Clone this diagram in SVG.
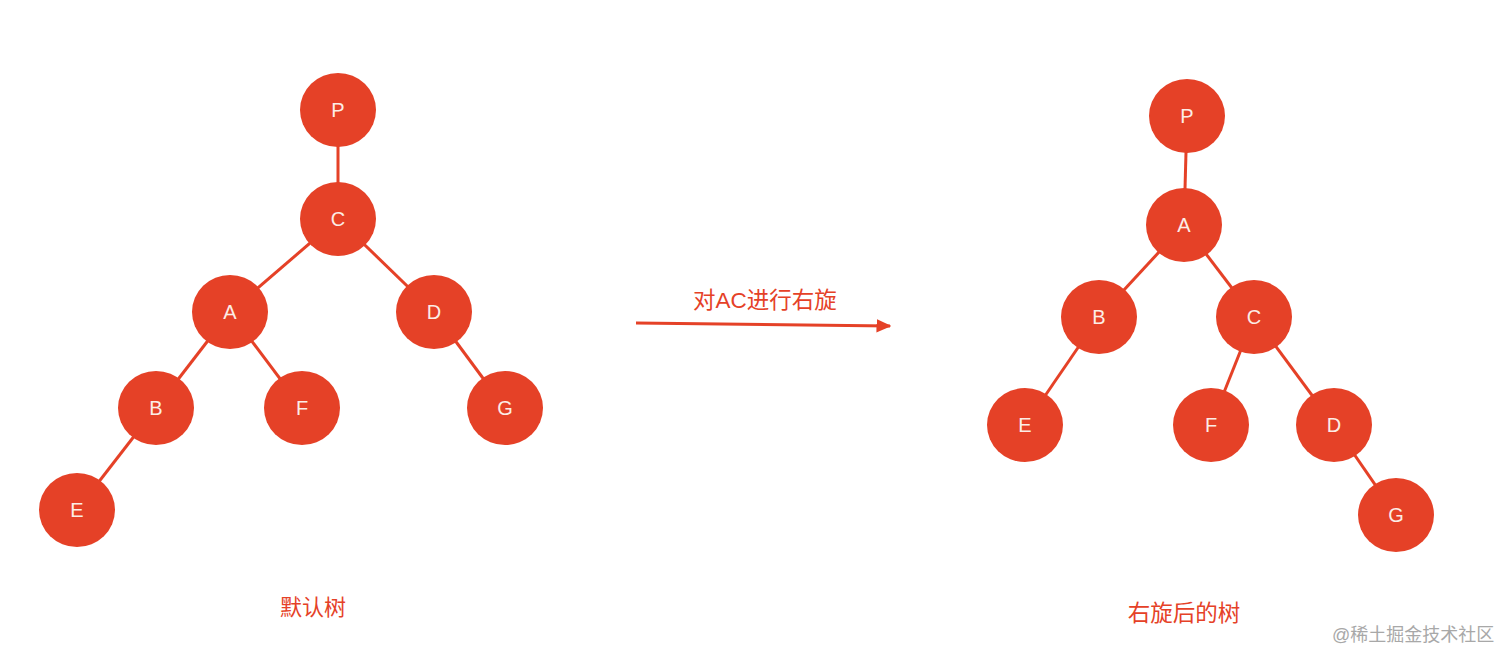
<svg xmlns="http://www.w3.org/2000/svg" width="1512" height="664" viewBox="0 0 1512 664">
<defs>
<style>
.n{fill:#E54127;}
.t{font-family:"Liberation Sans",Arial,sans-serif;font-size:20px;fill:#FCEDE6;text-anchor:middle;dominant-baseline:central;}
.e{stroke:#E54127;stroke-width:3;fill:none;}
.lbl{font-family:"Liberation Sans","Noto Sans CJK SC",sans-serif;font-size:22px;fill:#E54127;text-anchor:middle;}
.wm{font-family:"Liberation Sans","Noto Sans CJK SC",sans-serif;font-size:18px;fill:#A8A8A8;}
</style>
<marker id="ah" viewBox="0 0 10 10" refX="9" refY="5" markerWidth="5" markerHeight="4.5" orient="auto" markerUnits="strokeWidth" preserveAspectRatio="none">
<path d="M0,0 L10,5 L0,10 Z" fill="#E54127"/>
</marker>
</defs>
<rect width="1512" height="664" fill="#FFFFFF"/>
<g id="connectors">
<line class="e" x1="338" y1="110" x2="338" y2="219"/>
<line class="e" x1="338" y1="219" x2="230" y2="312"/>
<line class="e" x1="338" y1="219" x2="434" y2="312"/>
<line class="e" x1="230" y1="312" x2="156" y2="408"/>
<line class="e" x1="230" y1="312" x2="302" y2="408"/>
<line class="e" x1="434" y1="312" x2="505" y2="408"/>
<line class="e" x1="156" y1="408" x2="77" y2="510"/>
<line class="e" x1="1187" y1="116" x2="1184" y2="225"/>
<line class="e" x1="1184" y1="225" x2="1099" y2="317"/>
<line class="e" x1="1184" y1="225" x2="1254" y2="317"/>
<line class="e" x1="1099" y1="317" x2="1025" y2="425"/>
<line class="e" x1="1254" y1="317" x2="1211" y2="425"/>
<line class="e" x1="1254" y1="317" x2="1334" y2="425"/>
<line class="e" x1="1334" y1="425" x2="1396" y2="515"/>
<line class="e" x1="636" y1="323" x2="890" y2="326" marker-end="url(#ah)"/>
</g>
<g id="L-P"><ellipse class="n" cx="338" cy="110" rx="38" ry="37"/><text class="t" x="338" y="110">P</text></g>
<g id="L-C"><ellipse class="n" cx="338" cy="219" rx="38" ry="37"/><text class="t" x="338" y="219">C</text></g>
<g id="L-A"><ellipse class="n" cx="230" cy="312" rx="38" ry="37"/><text class="t" x="230" y="312">A</text></g>
<g id="L-D"><ellipse class="n" cx="434" cy="312" rx="38" ry="37"/><text class="t" x="434" y="312">D</text></g>
<g id="L-B"><ellipse class="n" cx="156" cy="408" rx="38" ry="37"/><text class="t" x="156" y="408">B</text></g>
<g id="L-F"><ellipse class="n" cx="302" cy="408" rx="38" ry="37"/><text class="t" x="302" y="408">F</text></g>
<g id="L-G"><ellipse class="n" cx="505" cy="408" rx="38" ry="37"/><text class="t" x="505" y="408">G</text></g>
<g id="L-E"><ellipse class="n" cx="77" cy="510" rx="38" ry="37"/><text class="t" x="77" y="510">E</text></g>
<g id="R-P"><ellipse class="n" cx="1187" cy="116" rx="38" ry="37"/><text class="t" x="1187" y="116">P</text></g>
<g id="R-A"><ellipse class="n" cx="1184" cy="225" rx="38" ry="37"/><text class="t" x="1184" y="225">A</text></g>
<g id="R-B"><ellipse class="n" cx="1099" cy="317" rx="38" ry="37"/><text class="t" x="1099" y="317">B</text></g>
<g id="R-C"><ellipse class="n" cx="1254" cy="317" rx="38" ry="37"/><text class="t" x="1254" y="317">C</text></g>
<g id="R-E"><ellipse class="n" cx="1025" cy="425" rx="38" ry="37"/><text class="t" x="1025" y="425">E</text></g>
<g id="R-F"><ellipse class="n" cx="1211" cy="425" rx="38" ry="37"/><text class="t" x="1211" y="425">F</text></g>
<g id="R-D"><ellipse class="n" cx="1334" cy="425" rx="38" ry="37"/><text class="t" x="1334" y="425">D</text></g>
<g id="R-G"><ellipse class="n" cx="1396" cy="515" rx="38" ry="37"/><text class="t" x="1396" y="515">G</text></g>
<g id="labels">
<text class="lbl" x="765" y="308" style="font-size:22.5px">对AC进行右旋</text>
<text class="lbl" x="313" y="615">默认树</text>
<text class="lbl" x="1184" y="621" style="font-size:22.5px">右旋后的树</text>
<text class="wm" x="1332" y="641">@稀土掘金技术社区</text>
</g>
</svg>
